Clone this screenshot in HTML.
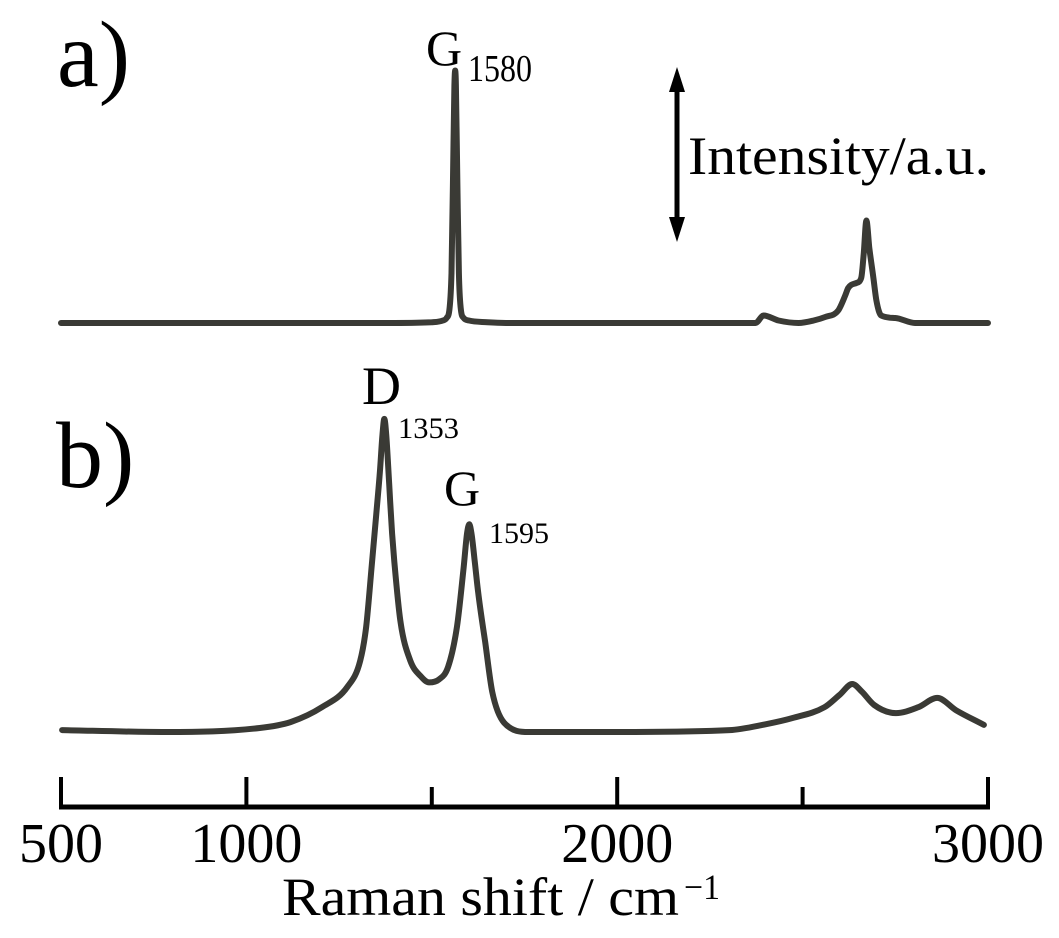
<!DOCTYPE html>
<html><head><meta charset="utf-8"><style>
html,body{margin:0;padding:0;background:#fff;}
svg{display:block;font-family:"Liberation Serif",serif;}
</style></head><body>
<svg id="chart" width="1059" height="938" viewBox="0 0 1059 938" xmlns="http://www.w3.org/2000/svg">
<g id="plot"></g>
<text x="57" y="86" font-size="94">a)</text>
<text x="56" y="487" font-size="94">b)</text>
<text x="426" y="65" font-size="50">G</text>
<text x="468" y="81" font-size="38" textLength="64" lengthAdjust="spacingAndGlyphs">1580</text>
<text x="362" y="404" font-size="54">D</text>
<text x="398" y="438" font-size="30" textLength="61" lengthAdjust="spacingAndGlyphs">1353</text>
<text x="444" y="505" font-size="50">G</text>
<text x="489" y="543" font-size="30" textLength="60" lengthAdjust="spacingAndGlyphs">1595</text>
<g>
<line x1="677" y1="82" x2="677" y2="228" stroke="#000" stroke-width="5"/>
<polygon points="677,67 669,92 685,92" fill="#000"/>
<polygon points="677,242 669,217 685,217" fill="#000"/>
</g>
<text x="688" y="174" font-size="54" textLength="301" lengthAdjust="spacingAndGlyphs">Intensity/a.u.</text>
<text x="282" y="915" font-size="54" textLength="397" lengthAdjust="spacingAndGlyphs">Raman shift / cm</text>
<text x="684" y="899" font-size="36" textLength="36" lengthAdjust="spacingAndGlyphs">−1</text>
</svg>
<script>
var tickValues=[500,1000,1500,2000,2500,3000];
var tickLabels=["500","1000","","2000","","3000"];
var aWavenumbers=[500,1000,1400,1500,1530,1540,1548,1553,1557,1561,1563,1565,1569,1573,1578,1586,1600,1650,1700,2300,2373,2395,2435,2489,2530,2561,2596,2615,2623,2645,2658,2665,2672,2680,2691,2699,2712,2750,2803,3000];
var aIntensity=[0,0,0,0.3,1,2,6,20,55,95,101,95,55,20,6,2,1,0.3,0,0,0,3,1,0,1,2.4,5,11,14,16,18,28,41,30,18,9,3,2,0,0];
var bWavenumbers=[503,783,1036,1119,1205,1272,1307,1323,1339,1350,1360,1367,1372,1377,1385,1393,1399,1415,1442,1470,1493,1520,1544,1568,1585,1595,1601,1607,1615,1625,1644,1663,1695,1762,2000,2303,2400,2473,2559,2600,2634,2660,2693,2752,2812,2863,2914,2989];
var bIntensity=[0.6,0,1.3,3.2,8.1,14.5,23,34,55,70,84,96,101,96,80,64,55,36,23,18,16,17,21,34,52,64,67,64,56,45,29,13,3,0,0,0.6,2.5,4.5,8,12,15.5,13,8.7,6.1,8,11,7,2.3];

function xScale(v){return 61+(v-500)*(927/2500);}
function yA(v){return 323-v*2.5;}
function yB(v){return 732-v*3.1;}
var NS="http://www.w3.org/2000/svg";
var g=document.getElementById("plot");
function mk(t,attrs){var e=document.createElementNS(NS,t);for(var k in attrs)e.setAttribute(k,attrs[k]);g.appendChild(e);return e;}
function pathFrom(xs,ys,yf){
  var P=[];for(var i=0;i<xs.length;i++)P.push([xScale(xs[i]),yf(ys[i])]);
  var n=P.length,d=[],m=[];
  for(var i=0;i<n-1;i++)d.push((P[i+1][1]-P[i][1])/(P[i+1][0]-P[i][0]));
  m.push(d[0]);
  for(var i=1;i<n-1;i++){m.push(d[i-1]*d[i]<=0?0:(d[i-1]+d[i])/2);}
  m.push(d[n-2]);
  for(var i=0;i<n-1;i++){if(d[i]===0){m[i]=0;m[i+1]=0;continue;}var a=m[i]/d[i],b=m[i+1]/d[i],s=a*a+b*b;if(s>9){var t=3/Math.sqrt(s);m[i]=t*a*d[i];m[i+1]=t*b*d[i];}}
  var s="M"+P[0][0].toFixed(1)+","+P[0][1].toFixed(1);
  for(var i=0;i<n-1;i++){var h=(P[i+1][0]-P[i][0])/3;
    s+="C"+(P[i][0]+h).toFixed(1)+","+(P[i][1]+m[i]*h).toFixed(1)+" "+(P[i+1][0]-h).toFixed(1)+","+(P[i+1][1]-m[i+1]*h).toFixed(1)+" "+P[i+1][0].toFixed(1)+","+P[i+1][1].toFixed(1);}
  return s;
}
var pa=mk("path",{d:pathFrom(aWavenumbers,aIntensity,yA),fill:"none",stroke:"#3a3a35","stroke-width":6,"stroke-linejoin":"round","stroke-linecap":"round"});


var pb=mk("path",{d:pathFrom(bWavenumbers,bIntensity,yB),fill:"none",stroke:"#3a3a35","stroke-width":6,"stroke-linejoin":"round","stroke-linecap":"round"});


var ax=mk("line",{x1:xScale(500)-2,x2:xScale(3000)+2,y1:807,y2:807,stroke:"#000","stroke-width":5});


for(var i=0;i<tickValues.length;i++){
  var major=tickLabels[i]!=="";
  var t=mk("line",{x1:xScale(tickValues[i]),x2:xScale(tickValues[i]),y1:807,y2:major?777:787,stroke:"#000","stroke-width":4});
  
  
  if(major){
    var tx=mk("text",{x:xScale(tickValues[i]),y:862,"font-size":56,"text-anchor":"middle"});
    tx.textContent=tickLabels[i];
    
    
  }
}
</script>
</body></html>
